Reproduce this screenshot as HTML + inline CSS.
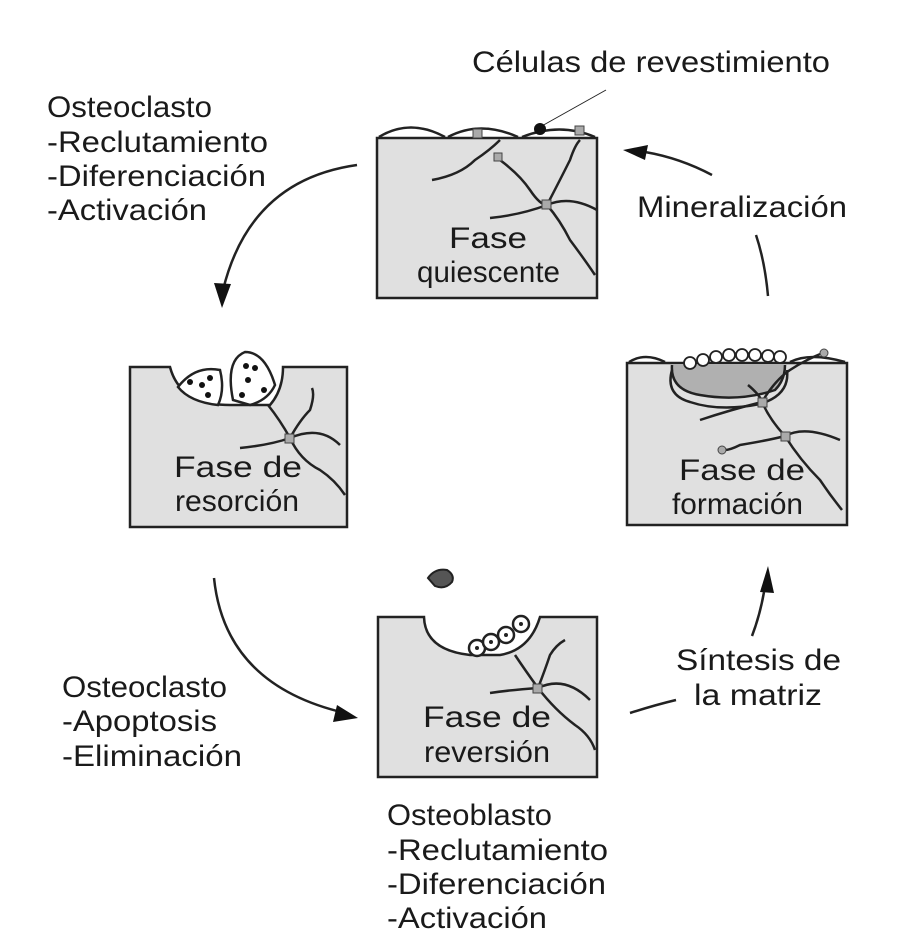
<!DOCTYPE html>
<html><head><meta charset="utf-8"><style>
html,body{margin:0;padding:0;background:#fff;}
svg{display:block;}
text{font-family:"Liberation Sans",Arial,sans-serif;fill:#1a1a1a;font-size:30px;}
</style></head><body>
<svg width="906" height="951" viewBox="0 0 906 951" xmlns="http://www.w3.org/2000/svg">
<g stroke="#222" stroke-width="2.5" fill="none">
<rect x="377" y="138" width="220" height="160" fill="#e0e0e0"/>
<path d="M379 137 Q410 118 445 137 M448 137 Q480 120 518 137 M522 137 Q560 122 595 137"/>
<path d="M432 180 Q460 175 475 160 Q490 150 500 140 M500 160 Q520 175 530 190 Q540 205 547 205 Q560 220 570 240 Q585 260 595 275 M547 205 Q570 195 597 210 M547 205 Q520 215 490 218 M547 205 Q560 180 570 160 Q575 145 580 140"/>
<line x1="540" y1="127" x2="606" y2="90" stroke-width="1"/>
</g>
<circle cx="540" cy="129" r="6" fill="#111"/>
<rect x="494" y="153" width="8" height="8" fill="#aaa" stroke="#444"/>
<rect x="542" y="200" width="9" height="9" fill="#aaa" stroke="#444"/>
<rect x="575" y="126" width="9" height="9" fill="#aaa" stroke="#444"/>
<rect x="473" y="129" width="9" height="9" fill="#aaa" stroke="#444"/>

<path d="M130 367 H170 Q180 405 230 405 H270 Q283 390 283 367 H347 V527 H130 Z" fill="#e0e0e0" stroke="#222" stroke-width="2.5"/>
<path d="M178 387 Q195 365 220 370 Q225 390 218 405 Q190 402 178 387 Z" fill="#fff" stroke="#222" stroke-width="2.5"/>
<path d="M233 400 Q225 360 245 352 Q265 352 275 385 Q268 400 250 405 Z" fill="#fff" stroke="#222" stroke-width="2.5"/>
<g fill="#111"><circle cx="190" cy="382" r="3"/><circle cx="202" cy="385" r="3"/><circle cx="210" cy="378" r="3"/><circle cx="208" cy="395" r="3"/><circle cx="246" cy="366" r="3"/><circle cx="255" cy="368" r="3"/><circle cx="248" cy="380" r="3"/><circle cx="242" cy="395" r="3"/><circle cx="264" cy="390" r="3"/></g>
<g stroke="#222" stroke-width="2.5" fill="none">
<path d="M268 405 Q280 420 290 438 M290 438 Q300 420 310 410 Q315 395 312 388 M290 438 Q320 425 340 445 M290 438 Q300 460 320 470 Q335 480 345 495 M290 438 Q270 445 240 448"/>
</g>
<rect x="285" y="434" width="9" height="9" fill="#aaa" stroke="#444"/>

<rect x="627" y="363" width="220" height="162" fill="#e0e0e0" stroke="#222" stroke-width="2.5"/>
<path d="M672 365 Q670 390 700 395 Q740 402 775 390 Q785 380 785 365" fill="#b0b0b0" stroke="#222" stroke-width="2.5"/>
<path d="M672 370 Q665 395 690 402 Q720 412 760 404 Q790 395 787 370" fill="none" stroke="#222" stroke-width="2.5"/>
<g fill="#fff" stroke="#222" stroke-width="1.8">
<circle cx="690" cy="363" r="6"/><circle cx="703" cy="360" r="6"/><circle cx="716" cy="357" r="6"/><circle cx="729" cy="355" r="6"/><circle cx="742" cy="355" r="6"/><circle cx="755" cy="355" r="6"/><circle cx="768" cy="356" r="6"/><circle cx="780" cy="357" r="6"/>
</g>
<path d="M629 362 Q645 352 665 362 M790 362 Q810 352 845 362" stroke="#222" stroke-width="2.5" fill="none"/>
<g stroke="#222" stroke-width="2.5" fill="none">
<path d="M748 385 Q760 395 762 402 M762 402 Q775 380 790 370 Q805 360 825 352 M762 402 Q770 420 785 436 M762 402 Q730 410 700 420 M785 436 Q805 425 840 440 M785 436 Q770 440 740 445 Q730 450 725 450 M785 436 Q800 460 820 480 Q830 495 842 510"/>
</g>
<rect x="758" y="398" width="9" height="9" fill="#aaa" stroke="#444"/>
<rect x="781" y="432" width="9" height="9" fill="#aaa" stroke="#444"/>
<circle cx="722" cy="450" r="4" fill="#aaa" stroke="#444"/>
<circle cx="824" cy="353" r="4" fill="#aaa" stroke="#444"/>

<path d="M378 617 H424 Q425 650 470 655 H500 Q530 650 540 617 H597 V777 H378 Z" fill="#e0e0e0" stroke="#222" stroke-width="2.5"/>
<g fill="#fff" stroke="#222" stroke-width="2.5">
<circle cx="477" cy="648" r="8"/><circle cx="491" cy="642" r="8"/><circle cx="506" cy="635" r="8"/><circle cx="521" cy="624" r="8"/>
</g>
<g fill="#222"><circle cx="477" cy="648" r="2"/><circle cx="491" cy="642" r="2"/><circle cx="506" cy="635" r="2"/><circle cx="521" cy="624" r="2"/></g>
<g stroke="#222" stroke-width="2.5" fill="none">
<path d="M515 655 Q525 670 538 688 M538 688 Q545 670 550 655 Q556 645 565 640 M538 688 Q565 675 590 700 M538 688 Q555 710 575 725 Q590 735 595 750 M538 688 Q510 690 490 693"/>
</g>
<rect x="533" y="684" width="9" height="9" fill="#aaa" stroke="#444"/>
<path d="M428 578 Q435 568 447 570 Q455 575 452 582 Q445 590 435 586 Z" fill="#555" stroke="#222" stroke-width="2"/>

<g stroke="#222" stroke-width="2.5" fill="none">
<path d="M357 165 Q250 180 223 290"/>
<path d="M214 578 Q225 685 345 713"/>
<path d="M630 713 Q655 705 676 700"/>
<path d="M752 636 Q760 615 764 592"/>
<path d="M768 296 Q765 262 756 235"/>
<path d="M712 175 Q680 158 645 152"/>
</g>
<g fill="#111">
<polygon points="222,308 214,283 231,284"/>
<polygon points="358,718 333,722 337,705"/>
<polygon points="768,566 774,593 760,592"/>
<polygon points="623,150 648,145 645,160"/>
</g>

<text x="472" y="72" textLength="358" lengthAdjust="spacingAndGlyphs">Células de revestimiento</text>
<text x="47" y="117" textLength="165" lengthAdjust="spacingAndGlyphs">Osteoclasto</text>
<text x="47" y="152" textLength="221" lengthAdjust="spacingAndGlyphs">-Reclutamiento</text>
<text x="47" y="186" textLength="219" lengthAdjust="spacingAndGlyphs">-Diferenciación</text>
<text x="47" y="220" textLength="160" lengthAdjust="spacingAndGlyphs">-Activación</text>
<text x="637" y="217" textLength="210" lengthAdjust="spacingAndGlyphs">Mineralización</text>
<text x="676" y="670" textLength="165" lengthAdjust="spacingAndGlyphs">Síntesis de</text>
<text x="694" y="705" textLength="128" lengthAdjust="spacingAndGlyphs">la matriz</text>
<text x="62" y="697" textLength="165" lengthAdjust="spacingAndGlyphs">Osteoclasto</text>
<text x="62" y="731" textLength="155" lengthAdjust="spacingAndGlyphs">-Apoptosis</text>
<text x="62" y="766" textLength="180" lengthAdjust="spacingAndGlyphs">-Eliminación</text>
<text x="387" y="825" textLength="165" lengthAdjust="spacingAndGlyphs">Osteoblasto</text>
<text x="387" y="860" textLength="221" lengthAdjust="spacingAndGlyphs">-Reclutamiento</text>
<text x="387" y="894" textLength="219" lengthAdjust="spacingAndGlyphs">-Diferenciación</text>
<text x="387" y="928" textLength="160" lengthAdjust="spacingAndGlyphs">-Activación</text>
<text x="449" y="248" textLength="78" lengthAdjust="spacingAndGlyphs">Fase</text>
<text x="417" y="282" textLength="143" lengthAdjust="spacingAndGlyphs">quiescente</text>
<text x="174" y="477" textLength="128" lengthAdjust="spacingAndGlyphs">Fase de</text>
<text x="175" y="511" textLength="124" lengthAdjust="spacingAndGlyphs">resorción</text>
<text x="679" y="480" textLength="126" lengthAdjust="spacingAndGlyphs">Fase de</text>
<text x="672" y="514" textLength="131" lengthAdjust="spacingAndGlyphs">formación</text>
<text x="423" y="727" textLength="128" lengthAdjust="spacingAndGlyphs">Fase de</text>
<text x="424" y="762" textLength="126" lengthAdjust="spacingAndGlyphs">reversión</text>
</svg>
</body></html>
